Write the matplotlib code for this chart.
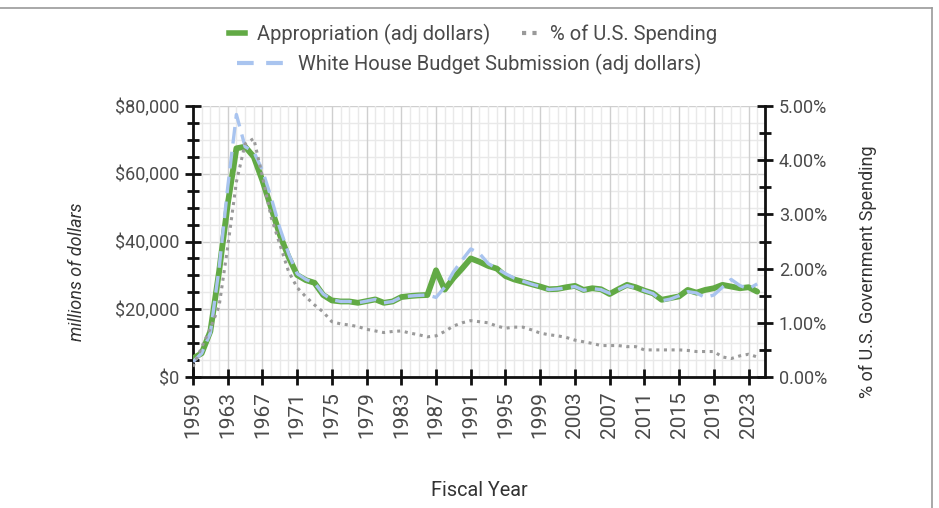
import matplotlib
matplotlib.use("Agg")
import matplotlib.pyplot as plt
from matplotlib.lines import Line2D
from matplotlib.ticker import MultipleLocator

plt.rcParams['font.family'] = ['Roboto', 'DejaVu Sans']

years = list(range(1959, 2025))

appropriation = [5500, 7000, 13500, 31000, 51000, 67500, 68000, 65000, 58000, 50000,
                 42000, 35500, 30100, 28600, 27800, 24200, 22600, 22300, 22300, 21900,
                 22400, 22900, 21900, 22300, 23600, 23900, 24100, 24200, 31500, 25800,
                 29200, 32000, 35000, 34000, 32800, 32000, 29800, 28800, 28100, 27400,
                 26700, 25900, 26000, 26500, 26900, 25700, 26200, 25900, 24500, 25900,
                 27200, 26500, 25500, 24700, 22800, 23300, 23800, 25700, 24900, 25700,
                 26200, 27200, 26700, 26200, 26500, 25200]

wh_submission = [4500, 7000, 13000, 32000, 56000, 77500, 68000, 66500, 61000, 53000,
                 44000, 36500, 30500, 28800, 27800, 24500, 22800, 22300, 22300, 21900,
                 22400, 22900, 21900, 22300, 23600, 23900, 24100, 24200, 23500, 26500,
                 31000, 34500, 37800, 36500, 33500, 32000, 30500, 29200, 28300, 27400,
                 26700, 25800, 26000, 26300, 26700, 25600, 26100, 25800, 24700, 25800,
                 27000, 26300, 25500, 24600, 22500, 23000, 24000, 25200, 24800, 23500,
                 24200, 26500, 28800, 27000, 26000, 27500]

pct_spending = [0.19, 0.55, 0.90, 1.30, 2.40, 3.60, 4.30, 4.40, 3.70, 2.95,
                2.45, 1.95, 1.65, 1.48, 1.33, 1.20, 1.02, 0.98, 0.96, 0.93,
                0.88, 0.85, 0.82, 0.84, 0.85, 0.81, 0.78, 0.74, 0.76, 0.84,
                0.94, 1.00, 1.04, 1.02, 1.00, 0.94, 0.90, 0.92, 0.92, 0.87,
                0.81, 0.78, 0.76, 0.73, 0.68, 0.65, 0.62, 0.58, 0.58, 0.58,
                0.56, 0.56, 0.50, 0.50, 0.50, 0.50, 0.50, 0.49, 0.47, 0.47,
                0.47, 0.37, 0.34, 0.39, 0.42, 0.37]

year_ticks = list(range(1959, 2024, 4))
left_ticks = [0, 20000, 40000, 60000, 80000]
left_labels = ['$0', '$20,000', '$40,000', '$60,000', '$80,000']
right_ticks = [0, 1, 2, 3, 4, 5]

GREEN = '#62aa45'
BLUE = '#a9c4ef'
GRAY = '#9a9a9a'
TXT = '#4a4a4a'

fig = plt.figure(figsize=(9.39, 5.08), dpi=100)
ax = fig.add_axes([193/939, 1-377/508, (765-193)/939, (377-106)/508])
ax2 = ax.twinx()

# grid
for y in range(0, 80001, 5000):
    ax.axhline(y, color='#cfcfcf' if y % 20000 == 0 else '#e9e9e9', lw=1.0, zorder=0)
for x in range(1959, 2026):
    ax.axvline(x, color='#cfcfcf' if (x - 1959) % 4 == 0 else '#e9e9e9', lw=1.0, zorder=0)

ax.plot(years, appropriation, color=GREEN, lw=4.2, solid_joinstyle='round',
        solid_capstyle='round', zorder=3)
ax.plot(years, wh_submission, color=BLUE, lw=2.4, dashes=(5, 2.5), zorder=4)
ax2.plot(years, [p / 100 for p in pct_spending], color=GRAY, lw=2.2,
         dashes=(1, 1.5), zorder=2)

ax.set_xlim(1959, 2024.9)
ax.set_ylim(0, 80000)
ax2.set_ylim(0, 0.05)

ax.set_xticks(year_ticks)
ax.set_xticklabels([str(y) for y in year_ticks], rotation=90, fontsize=15, color=TXT)
ax.set_yticks(left_ticks)
ax.set_yticklabels(left_labels, fontsize=13, color=TXT)
ax.yaxis.set_minor_locator(MultipleLocator(5000))
ax2.set_yticks([t / 100 for t in right_ticks])
ax2.set_yticklabels(['%.2f%%' % t for t in right_ticks], fontsize=13, color=TXT)
ax2.yaxis.set_minor_locator(MultipleLocator(0.005))

for a in (ax, ax2):
    for s in a.spines.values():
        s.set_visible(False)
ax.spines['left'].set_visible(True)
ax.spines['bottom'].set_visible(True)
ax2.spines['right'].set_visible(True)
for s in (ax.spines['left'], ax.spines['bottom'], ax2.spines['right']):
    s.set_linewidth(2)
    s.set_color('#111111')

ax.tick_params(axis='both', which='major', direction='inout', length=12, width=2, color='#111111', pad=4)
ax.tick_params(axis='y', which='minor', direction='inout', length=8, width=2, color='#111111')
ax2.tick_params(axis='y', which='major', direction='inout', length=12, width=2, color='#111111', pad=4)
ax2.tick_params(axis='y', which='minor', direction='inout', length=8, width=2, color='#111111')

ax.set_xlabel('Fiscal Year', fontsize=14.3, color='#333333', va='center')
ax.xaxis.set_label_coords(0.5, (377-490)/271)
ax.set_ylabel('millions of dollars', fontsize=13, color='#333333', style='italic', va='center')
ax.yaxis.set_label_coords((77-193)/572, 0.387)
ax2.set_ylabel('% of U.S. Government Spending', fontsize=13, color='#333333', va='center')
ax2.yaxis.set_label_coords((868-193)/572, 0.39)

h1 = Line2D([], [], color=GREEN, lw=4.0)
h2 = Line2D([], [], color=GRAY, lw=3, dashes=(1, 1.5))
h3 = Line2D([], [], color=BLUE, lw=3, dashes=(4, 3))
fig.legend([h1, h2], ['Appropriation (adj dollars)', '% of U.S. Spending'],
           loc='center', bbox_to_anchor=(473/939, 1-34/508), ncol=2, frameon=False,
           fontsize=14.5, handlelength=0.8, columnspacing=1.6, handletextpad=0.6,
           labelcolor=TXT)
fig.legend([h3], ['White House Budget Submission (adj dollars)'],
           loc='center', bbox_to_anchor=(469/939, 1-64/508), frameon=False,
           fontsize=14.5, handlelength=2.4, handletextpad=0.6, labelcolor=TXT)

# outer frame lines of screenshot
fig.add_artist(Line2D([0, 932/939], [1-8/508, 1-8/508], color='#9a9a9a', lw=1.2,
                      transform=fig.transFigure))
fig.add_artist(Line2D([932/939, 932/939], [1-8/508, 0], color='#9a9a9a', lw=1.2,
                      transform=fig.transFigure))

fig.savefig('out.png', dpi=100)
